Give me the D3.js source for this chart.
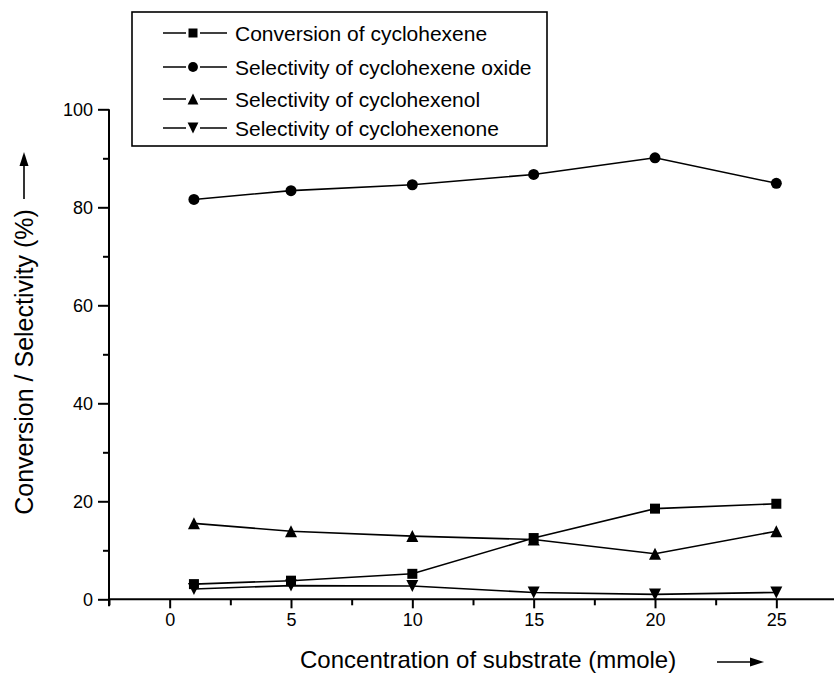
<!DOCTYPE html>
<html>
<head>
<meta charset="utf-8">
<script src="https://cdn.jsdelivr.net/npm/d3@7"></script>
<style>
  body { margin: 0; background: #fff; }
  svg { display: block; }
  text { font-family: "Liberation Sans", Arial, Helvetica, sans-serif; fill: #000; }
</style>
</head>
<body>
<svg id="chart" width="834" height="673"></svg>
<script>
// ---- data ----
const concentrations = [1, 5, 10, 15, 20, 25];
const conversionCyclohexene = [3.1, 3.8, 5.2, 12.5, 18.5, 19.5];
const selectivityOxide = [81.6, 83.4, 84.6, 86.7, 90.1, 84.9];
const selectivityEnol = [15.5, 13.9, 12.9, 12.2, 9.3, 13.9];
const selectivityEnone = [2.1, 2.8, 2.7, 1.4, 1.0, 1.4];
const seriesNames = [
  "Conversion of cyclohexene",
  "Selectivity of cyclohexene oxide",
  "Selectivity of cyclohexenol",
  "Selectivity of cyclohexenone"
];
const xTickValues = [0, 5, 10, 15, 20, 25];
const yTickValues = [0, 20, 40, 60, 80, 100];
const xTitle = "Concentration of substrate (mmole)";
const yTitle = "Conversion / Selectivity (%)";

const series = [
  { name: seriesNames[0], values: conversionCyclohexene, symbol: "square" },
  { name: seriesNames[1], values: selectivityOxide, symbol: "circle" },
  { name: seriesNames[2], values: selectivityEnol, symbol: "triangle" },
  { name: seriesNames[3], values: selectivityEnone, symbol: "down" }
];

const svg = d3.select("#chart");
const x = d3.scaleLinear().domain([-2.5, 27.5]).range([109, 837]);
const y = d3.scaleLinear().domain([0, 100]).range([599.3, 109.3]);

// symbols
function symbolPath(type, s) {
  s = s || 1;
  if (type === "square") return d3.symbol(d3.symbolSquare, 100 * s * s)();
  if (type === "circle") return d3.symbol(d3.symbolCircle, 95 * s * s)();
  const h = 12 * s, w = 12 * s;
  if (type === "triangle") return `M0,${-h/2}L${w/2},${h/2}L${-w/2},${h/2}Z`;
  return `M0,${h/2}L${w/2},${-h/2}L${-w/2},${-h/2}Z`;
}

// axes
const xAxis = d3.axisBottom(x).tickValues(xTickValues).tickSize(9).tickPadding(4).tickFormat(d3.format("d"));
const yAxis = d3.axisLeft(y).tickValues(yTickValues).tickSize(11).tickPadding(5).tickFormat(d3.format("d"));

const gx = svg.append("g").attr("transform", `translate(0,${y(0)})`).call(xAxis);
const gy = svg.append("g").attr("transform", `translate(${x(-2.5)},0)`).call(yAxis);

// minor ticks
const xMinor = d3.range(-2.5, 27.6, 5);
svg.append("g").attr("transform", `translate(0,${y(0)})`)
  .call(d3.axisBottom(x).tickValues(xMinor).tickSize(6).tickFormat(""))
  .select(".domain").remove();
const yMinor = d3.range(10, 100, 20);
svg.append("g").attr("transform", `translate(${x(-2.5)},0)`)
  .call(d3.axisLeft(y).tickValues(yMinor).tickSize(6).tickFormat(""))
  .select(".domain").remove();

svg.selectAll(".domain").attr("stroke", "#000").attr("stroke-width", 2);
svg.selectAll(".tick line").attr("stroke", "#000").attr("stroke-width", 2);
gx.select(".domain").attr("d", `M${x(-2.5)},0H${x(27.5)}`);
gy.select(".domain").attr("d", `M0,${y(100)}V${y(0) + 7}`);
gx.selectAll(".tick text").attr("font-size", 18).attr("dy", "0.75em");
gy.selectAll(".tick text").attr("font-size", 18).attr("dy", "0.36em");

// series lines and markers
const line = d3.line().x((d, i) => x(concentrations[i])).y(d => y(d));
series.forEach(s => {
  svg.append("path").attr("d", line(s.values))
    .attr("fill", "none").attr("stroke", "#000").attr("stroke-width", 1.6);
});
series.forEach(s => {
  svg.append("g").selectAll("path").data(s.values).join("path")
    .attr("d", symbolPath(s.symbol))
    .attr("transform", (d, i) => `translate(${x(concentrations[i])},${y(d)})`)
    .attr("fill", "#000");
});

// legend
const legend = svg.append("g");
legend.append("rect").attr("x", 132).attr("y", 12).attr("width", 415).attr("height", 134)
  .attr("fill", "#fff").attr("stroke", "#000").attr("stroke-width", 1.6);
const rowsY = [33, 67, 99, 128];
series.forEach((s, i) => {
  const g = legend.append("g").attr("transform", `translate(0,${rowsY[i]})`);
  g.append("line").attr("x1", 163).attr("x2", 227).attr("y1", 0).attr("y2", 0)
    .attr("stroke", "#000").attr("stroke-width", 1.6);
  g.append("rect").attr("x", 186).attr("y", -8).attr("width", 14).attr("height", 16).attr("fill", "#fff");
  g.append("path").attr("d", symbolPath(s.symbol, 0.9)).attr("transform", "translate(193,0)").attr("fill", "#000");
  g.append("text").attr("x", 235).attr("y", 0).attr("dy", "0.36em").attr("font-size", 21).text(s.name);
});

// axis titles with arrows
svg.append("text").attr("x", 300).attr("y", 668).attr("font-size", 24).text(xTitle);
svg.append("line").attr("x1", 717).attr("x2", 752).attr("y1", 662).attr("y2", 662)
  .attr("stroke", "#000").attr("stroke-width", 1.6);
svg.append("path").attr("d", "M764,662L750,657.5L750,666.5Z").attr("fill", "#000");

svg.append("text").attr("transform", "translate(33,362) rotate(-90)")
  .attr("text-anchor", "middle").attr("font-size", 25).text(yTitle);
svg.append("line").attr("x1", 24).attr("x2", 24).attr("y1", 199).attr("y2", 165)
  .attr("stroke", "#000").attr("stroke-width", 1.6);
svg.append("path").attr("d", "M24,152L19.5,166L28.5,166Z").attr("fill", "#000");
</script>
</body>
</html>
